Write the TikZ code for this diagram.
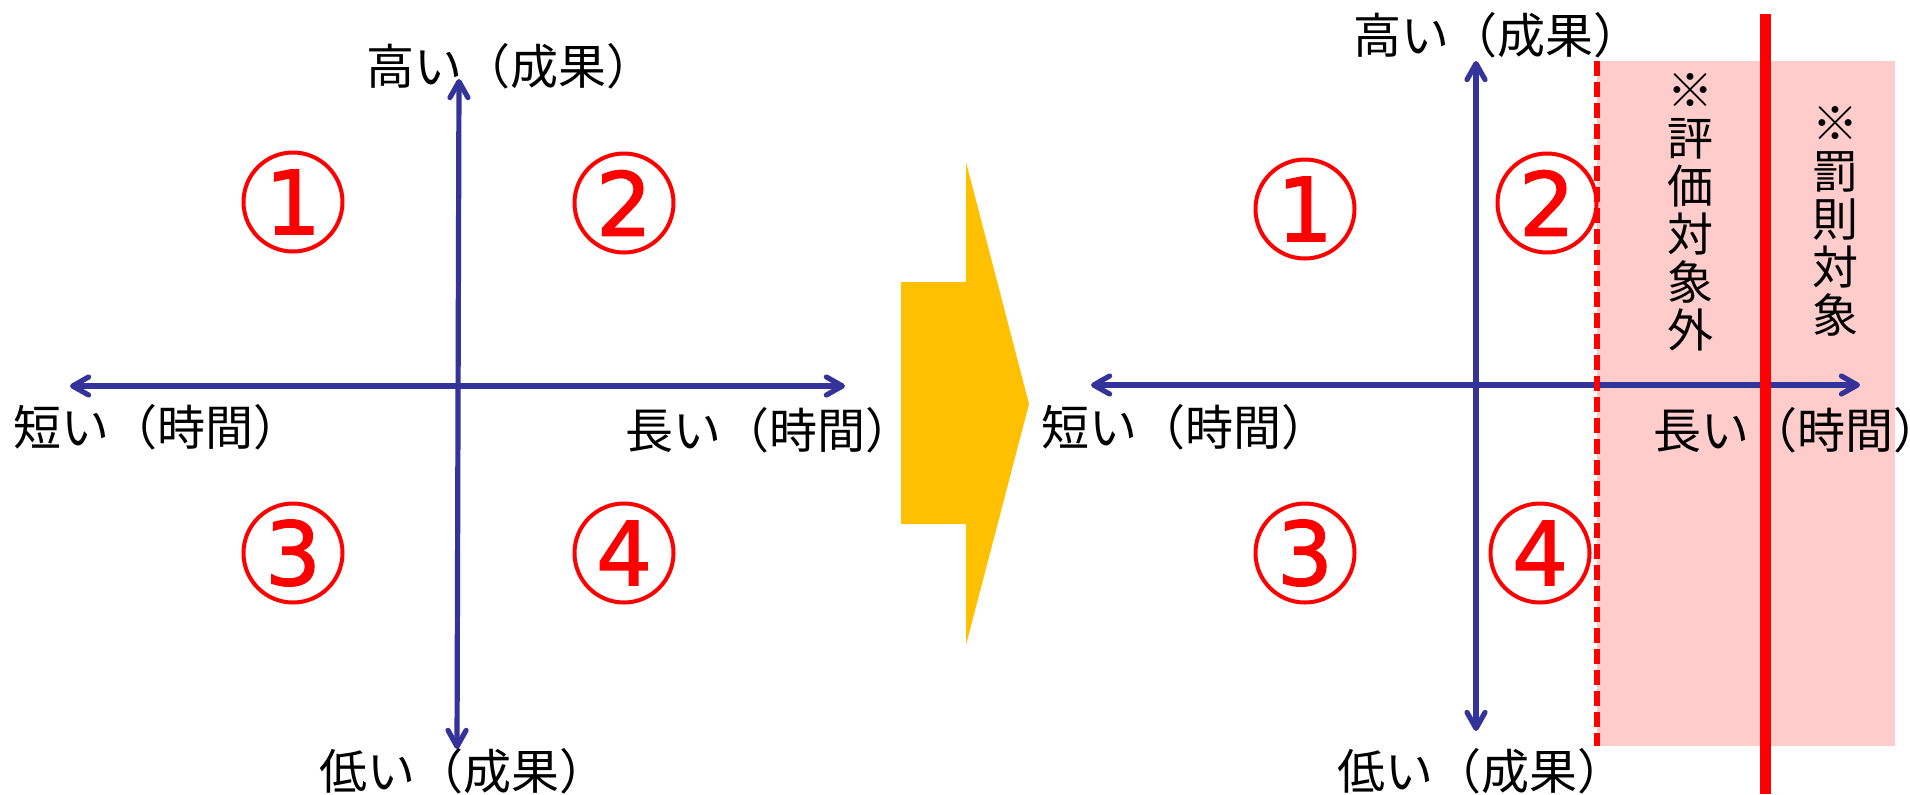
\documentclass[tikz,border=0pt]{standalone}
\usepackage{fontspec}
\newfontfamily\jp{Noto Sans CJK JP}
\newfontfamily\digitfont[FakeBold=1.6]{DejaVu Sans}
\usetikzlibrary{arrows.meta}
\definecolor{axisblue}{RGB}{51,51,153}
\definecolor{arrowyellow}{RGB}{255,192,0}
\definecolor{pinkzone}{RGB}{255,204,204}
\tikzset{
  axis/.style={draw=axisblue, line width=2.6pt,
    {Straight Barb[length=8pt,width=9pt,round]}-{Straight Barb[length=8pt,width=9pt,round]}},
  numcirc/.style={circle, draw=red, line width=2pt, minimum size=49.5pt, inner sep=0pt,
    text=red, font=\digitfont\fontsize{44}{44}\selectfont},
  lbl/.style={font=\jp\fontsize{24}{25}\selectfont, inner sep=0pt, anchor=west},
  vlbl/.style={font=\jp\fontsize{23}{24}\selectfont, inner sep=0pt, align=center, anchor=north},
  bigarrow/.style={fill=arrowyellow, draw=none},
  zone/.style={fill=pinkzone, draw=none},
  limitdash/.style={draw=red, line width=2.6pt, dash pattern=on 7.5pt off 3pt},
  limitsolid/.style={draw=red, line width=5.5pt}
}
\begin{document}
\begin{tikzpicture}[x=0.5pt, y=-0.5pt]
\useasboundingbox (0,0) rectangle (1910,794);

% ---------- left diagram ----------
\coordinate (LT) at (459,79);
\coordinate (LB) at (457,749);
\coordinate (LL) at (70,386);
\coordinate (LR) at (845,386);
\draw[axis] (LB) -- (LT);
\draw[axis] (LL) -- (LR);

\node[numcirc] (l1) at (293,202) {1};
\node[numcirc] (l2) at (624,203) {2};
\node[numcirc] (l3) at (293,553) {3};
\node[numcirc] (l4) at (624,553) {4};

\node[lbl] (lhigh) at (366,66) {高い（成果）};
\node[lbl] (llow) at (319,771) {低い（成果）};
\node[lbl] (lshort) at (13,427) {短い（時間）};
\node[lbl] (llong) at (625,430) {長い（時間）};

% ---------- big arrow ----------
\path[bigarrow] (901,282) -- (966,282) -- (966,162) -- (1029,404) -- (966,645) -- (966,524) -- (901,524) -- cycle;

% ---------- right diagram ----------
\path[zone] (1597,61) rectangle (1895,746);

\coordinate (RT) at (1476,61);
\coordinate (RB) at (1476,731);
\coordinate (RL) at (1091,385);
\coordinate (RR) at (1860,385);
\draw[axis] (RB) -- (RT);
\draw[axis] (RL) -- (RR);

\node[numcirc] (r1) at (1305,209) {1};
\node[numcirc] (r2) at (1547,203) {2};
\node[numcirc] (r3) at (1305,553) {3};
\node[numcirc] (r4) at (1540,553) {4};

\coordinate (dtop) at (1597,61);
\coordinate (dbot) at (1597,746);
\draw[limitdash] (dtop) -- (dbot);

\node[lbl] (rhigh) at (1353,35) {高い（成果）};
\node[lbl] (rlow) at (1337,771) {低い（成果）};
\node[lbl] (rshort) at (1041,427) {短い（時間）};
\node[lbl] (rlong) at (1653,430) {長い（時間）};

\node[vlbl] (outside) at (1690,73) {※\\評\\価\\対\\象\\外};
\node[vlbl] (penalty) at (1835,106) {※\\罰\\則\\対\\象};

\coordinate (stop) at (1765,14);
\coordinate (sbot) at (1765,794);
\draw[limitsolid] (stop) -- (sbot);
\end{tikzpicture}
\end{document}
